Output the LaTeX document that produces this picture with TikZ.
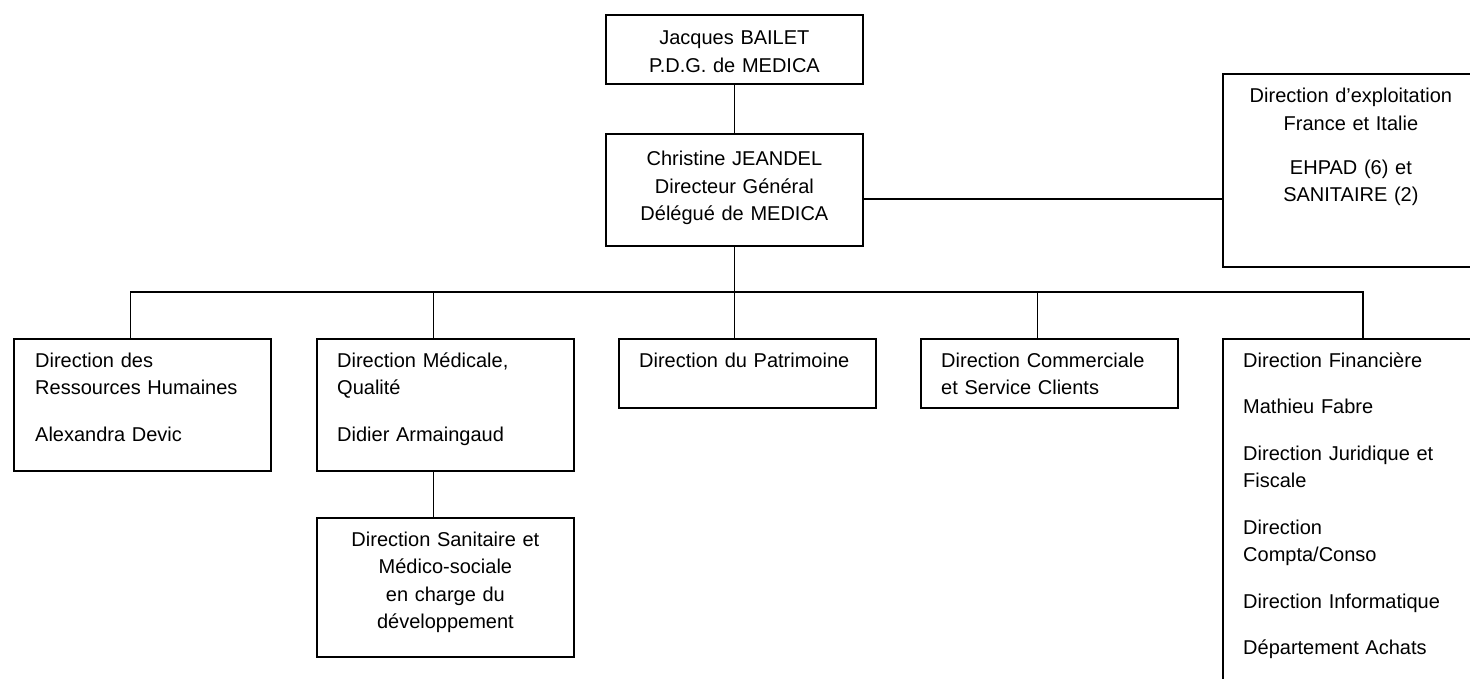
\documentclass[tikz,border=0pt]{standalone}
\usepackage{fontspec}
\setmainfont{Liberation Sans}
\begin{document}
\begin{tikzpicture}[x=1pt,y=-1pt,
    unit/.style={draw,line width=1.8pt,rectangle,inner sep=0pt,anchor=north west,minimum width=257pt},
    lbl/.style={inner sep=0pt,text width=240pt,align=left,anchor=base west},
    clbl/.style={inner sep=0pt,text width=250pt,align=center,anchor=base},
    link/.style={line width=1.8pt}]
    \fontsize{20}{27.5}\selectfont
    \useasboundingbox (0,0) rectangle (1470,679);
    \clip (0,0) rectangle (1470,679);

    % direction
    \node[unit,minimum height=69pt] (pdg) at (605,14) {};
    \node[clbl] (pdg-t) at ([shift={(0,31)}]pdg.north) {Jacques BAILET\\P.D.G. de MEDICA};
    \node[unit,minimum height=112pt] (dg) at (605,133) {};
    \node[clbl] (dg-t) at ([shift={(0,33)}]dg.north) {Christine JEANDEL\\Directeur Général\\Délégué de MEDICA};
    \node[unit,minimum width=256pt,minimum height=193pt] (expl) at (1222,73) {};
    \node[clbl] (expl-t) at ([shift={(0,30)}]expl.north) {Direction d’exploitation\\France et Italie\\[16.5pt]EHPAD (6) et\\SANITAIRE (2)};

    % directions fonctionnelles
    \node[unit,minimum height=132pt] (rh) at (13,338) {};
    \node[lbl] (rh-t) at ([shift={(22,29)}]rh.north west) {Direction des\\Ressources Humaines\\[19.5pt]Alexandra Devic};
    \node[unit,minimum height=132pt] (med) at (316,338) {};
    \node[lbl] (med-t) at ([shift={(21,29)}]med.north west) {Direction Médicale,\\Qualité\\[19.5pt]Didier Armaingaud};
    \node[unit,minimum height=139pt] (san) at (316,517) {};
    \node[clbl] (san-t) at ([shift={(0,29)}]san.north) {Direction Sanitaire et\\Médico-sociale\\en charge du\\développement};
    \node[unit,minimum height=69pt] (patr) at (618,338) {};
    \node[lbl] (patr-t) at ([shift={(21,29)}]patr.north west) {Direction du Patrimoine};
    \node[unit,minimum height=69pt] (com) at (920,338) {};
    \node[lbl] (com-t) at ([shift={(21,29)}]com.north west) {Direction Commerciale\\et Service Clients};
    \node[unit,minimum width=256pt,minimum height=400pt] (fin) at (1222,338) {};
    \node[lbl] (fin-t) at ([shift={(21,29)}]fin.north west) {Direction Financière\\[19pt]Mathieu Fabre\\[19pt]Direction Juridique et\\Fiscale\\[19pt]Direction\\Compta/Conso\\[19pt]Direction Informatique\\[19pt]Département Achats};

    % liaisons
    \draw[link] (pdg.south) -- (dg.north);
    \coordinate (dgx) at ([yshift=-9pt]dg.east);
    \draw[link] (dgx) -- (dgx -| expl.west);
    \coordinate (bus) at (dg.south |- 0,292);
    \draw[link] (dg.south) -- (bus);
    \draw[link] ([xshift=-12pt]rh.north) |- (bus);
    \draw[link] ([xshift=-12pt]med.north) |- (bus);
    \draw[link] (patr.north -| bus) -- (bus);
    \draw[link] ([xshift=-12pt]com.north) |- (bus);
    \draw[link] ([xshift=12pt]fin.north) |- (bus);
    \draw[link] ([xshift=-12pt]med.south) -- ([xshift=-12pt]san.north);
\end{tikzpicture}
\end{document}
